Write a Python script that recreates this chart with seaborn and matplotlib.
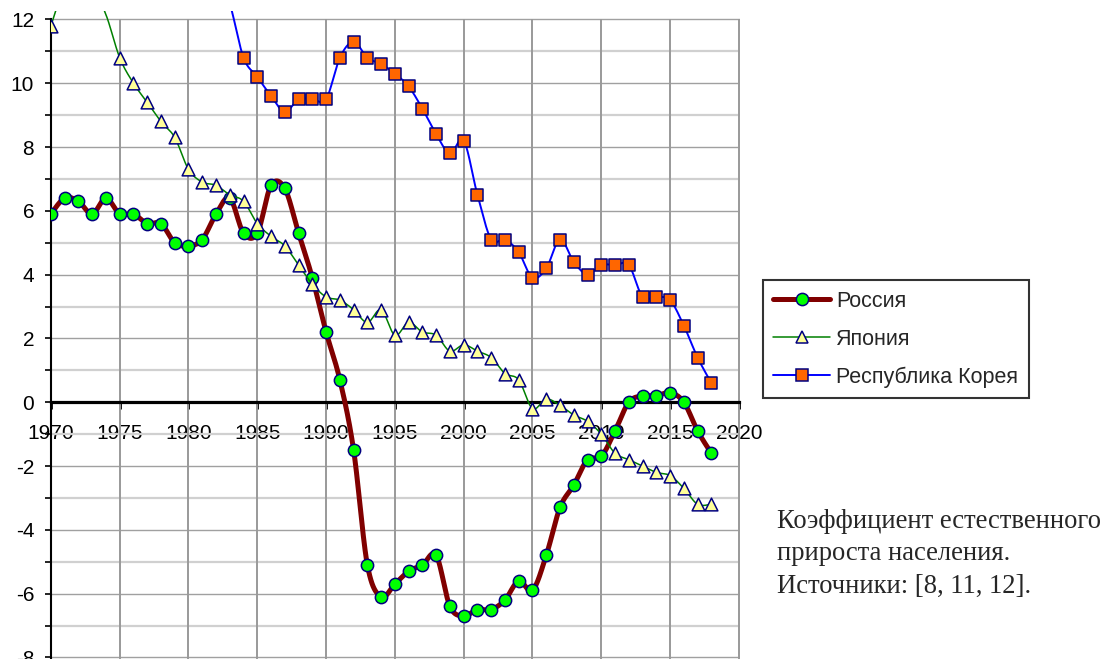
import numpy as np
import pandas as pd
import matplotlib
matplotlib.use('Agg')
import matplotlib.pyplot as plt
import seaborn as sns
from matplotlib.lines import Line2D
from matplotlib.ticker import MultipleLocator

# ── data ──────────────────────────────────────────────────────────
years = list(range(1970, 2019))
russia = [5.9, 6.4, 6.3, 5.9, 6.4, 5.9, 5.9, 5.6, 5.6, 5.0,
          4.9, 5.1, 5.9, 6.4, 5.3, 5.3, 6.8, 6.7, 5.3, 3.9,
          2.2, 0.7, -1.5, -5.1, -6.1, -5.7, -5.3, -5.1, -4.8, -6.4,
          -6.7, -6.5, -6.5, -6.2, -5.6, -5.9, -4.8, -3.3, -2.6, -1.8,
          -1.7, -0.9, 0.0, 0.2, 0.2, 0.3, 0.0, -0.9, -1.6]
japan = [11.8, 13.0, 13.1, 13.0, 12.15, 10.8, 10.0, 9.4, 8.8, 8.3,
         7.3, 6.9, 6.8, 6.5, 6.3, 5.6, 5.2, 4.9, 4.3, 3.7,
         3.3, 3.2, 2.9, 2.5, 2.9, 2.1, 2.5, 2.2, 2.1, 1.6,
         1.8, 1.6, 1.4, 0.9, 0.7, -0.2, 0.1, -0.1, -0.4, -0.6,
         -1.0, -1.6, -1.8, -2.0, -2.2, -2.3, -2.7, -3.2, -3.2]
korea_years = list(range(1982, 2019))
korea = [13.6, 12.5, 10.8, 10.2, 9.6, 9.1, 9.5, 9.5,
         9.5, 10.8, 11.3, 10.8, 10.6, 10.3, 9.9, 9.2, 8.4, 7.8,
         8.2, 6.5, 5.1, 5.1, 4.7, 3.9, 4.2, 5.1, 4.4, 4.0,
         4.3, 4.3, 4.3, 3.3, 3.3, 3.2, 2.4, 1.4, 0.6]

labels = ['Россия', 'Япония', 'Республика Корея']
note = 'Коэффициент естественного\nприроста населения.\nИсточники: [8, 11, 12].'

Y_MAX_AXIS = 12  # excel hides markers above the axis max

sns.set_theme(style='white')
plt.rcParams['font.family'] = ['Liberation Sans', 'DejaVu Sans']
plt.rcParams['axes.unicode_minus'] = False


def smooth(xs, ys, n=24):
    # excel-like smoothed line (bezier through the points)
    x = np.asarray(xs, float)
    y = np.asarray(ys, float)
    xp = np.r_[x[0], x, x[-1]]
    yp = np.r_[y[0], y, y[-1]]
    t = np.linspace(0, 1, n, endpoint=False)[:, None]
    ox, oy = [], []
    for i in range(1, len(x)):
        for arr, out in ((xp, ox), (yp, oy)):
            p0, p3 = arr[i], arr[i + 1]
            c1 = p0 + (arr[i + 1] - arr[i - 1]) / 6
            c2 = p3 - (arr[i + 2] - arr[i]) / 6
            b = (1 - t) ** 3 * p0 + 3 * (1 - t) ** 2 * t * c1 + 3 * (1 - t) * t ** 2 * c2 + t ** 3 * p3
            out.extend(b.ravel())
    ox.append(x[-1])
    oy.append(y[-1])
    return pd.DataFrame({'x': ox, 'y': oy})


fig = plt.figure(figsize=(11.09, 6.59), dpi=100)
ax = fig.add_axes([0.0459, 0.0, 0.6216, 0.9836])
ax.set_xlim(1970, 2020.1)
ax.set_ylim(-8.05, 12.27)

series = [
    (years, russia, '#800000', 3.6, 'o', '#00FF00', 78),
    (years, japan, '#008000', 1.1, '^', '#FFFF99', 84),
    (korea_years, korea, '#0000FF', 1.4, 's', '#FF6600', 74),
]

z = 3
for xs, ys, lc, lw, mk, fc, ms in series:
    curve = smooth(xs, ys)
    sns.lineplot(data=curve, x='x', y='y', ax=ax, color=lc, lw=lw,
                 sort=False, estimator=None, zorder=z)
    pts = pd.DataFrame({'x': xs, 'y': ys})
    pts = pts[pts['y'] <= Y_MAX_AXIS]
    sns.scatterplot(data=pts, x='x', y='y', ax=ax, marker=mk, s=ms,
                    color=fc, edgecolor='#000080', linewidth=1.1, zorder=z + 1)
    z += 2

# grid
ax.set_axisbelow(True)
ax.yaxis.set_major_locator(MultipleLocator(2))
ax.yaxis.set_minor_locator(MultipleLocator(1))
ax.xaxis.set_major_locator(MultipleLocator(5))
ax.grid(axis='y', which='major', color='#a0a0a0', lw=1.0)
ax.grid(axis='y', which='minor', color='#d0d0d0', lw=1.6)
xt = list(range(1975, 2021, 5))
ax.vlines(xt, -8.05, 12, color='#999999', lw=1.4, zorder=0.6)

for s in ['top', 'right']:
    ax.spines[s].set_visible(False)
ax.spines['bottom'].set_position(('data', 0))
ax.spines['bottom'].set_color('black')
ax.spines['bottom'].set_linewidth(2.3)
ax.spines['bottom'].set_bounds(1970, 2020)
ax.spines['bottom'].set_zorder(2.5)
ax.spines['left'].set_color('black')
ax.spines['left'].set_linewidth(1.5)
ax.spines['left'].set_bounds(-8.05, 12)

ax.tick_params(axis='x', which='major', direction='out', length=5, width=2,
               color='black', pad=11, labelsize=15, bottom=True)
ax.tick_params(axis='y', which='both', direction='out', length=4, width=1.2,
               color='black', pad=8, labelsize=15, left=True)
ax.set_xticks(list(range(1970, 2021, 5)))
ax.set_xlabel('')
ax.set_ylabel('')
for lab in ax.get_xticklabels() + ax.get_yticklabels():
    lab.set_color('black')

handles = [
    Line2D([], [], color='#800000', lw=3.6, marker='o', markersize=8.8,
           markerfacecolor='#00FF00', markeredgecolor='#000080', markeredgewidth=1.1),
    Line2D([], [], color='#008000', lw=1.1, marker='^', markersize=9.2,
           markerfacecolor='#FFFF99', markeredgecolor='#000080', markeredgewidth=1.1),
    Line2D([], [], color='#0000FF', lw=1.4, marker='s', markersize=8.6,
           markerfacecolor='#FF6600', markeredgecolor='#000080', markeredgewidth=1.1),
]
leg = fig.legend(handles, labels, loc='upper left', bbox_to_anchor=(0.6877, 0.5751),
                 borderaxespad=0, fontsize=15.5, frameon=True, fancybox=False,
                 edgecolor='black', handlelength=2.65, handletextpad=0.25,
                 borderpad=0.5, labelspacing=0.78)
leg.get_frame().set_linewidth(1.5)
leg.get_frame().set_facecolor('white')

fig.text(777 / 1109, 1 - 509 / 659, note, ha='left', va='top',
         family=['Liberation Serif', 'DejaVu Serif'], fontsize=19.2, linespacing=1.38)

fig.savefig('out.png', dpi=100)
